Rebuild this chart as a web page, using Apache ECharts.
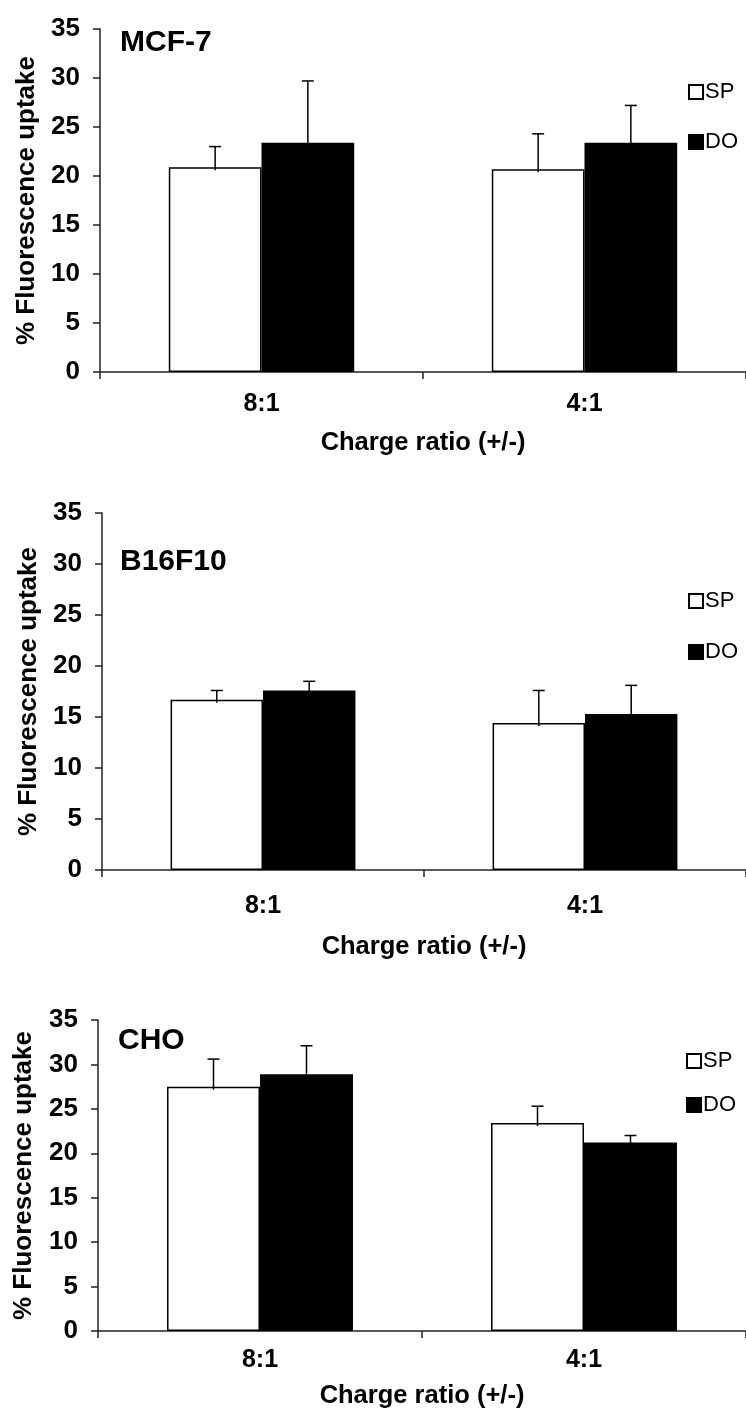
<!DOCTYPE html>
<html>
<head>
<meta charset="utf-8">
<script src="https://cdn.jsdelivr.net/npm/echarts@6/dist/echarts.min.js"></script>
<style>
html,body{margin:0;padding:0;background:#fff;}
#chart{width:746px;height:1410px;}
</style>
</head>
<body>
<div id="chart"></div>
<script>
// ---- data ----
const categories = ['8:1', '4:1'];
const seriesNames = ['SP', 'DO'];
const panelTitles = ['MCF-7', 'B16F10', 'CHO'];
const yTicks = [0, 5, 10, 15, 20, 25, 30, 35];

const mcf7SP = [20.9, 20.7];
const mcf7SPsd = [2.1, 3.6];
const mcf7DO = [23.4, 23.4];
const mcf7DOsd = [6.3, 3.8];

const b16SP = [16.7, 14.4];
const b16SPsd = [0.9, 3.2];
const b16DO = [17.6, 15.3];
const b16DOsd = [0.9, 2.8];

const choSP = [27.5, 23.4];
const choSPsd = [3.1, 1.9];
const choDO = [28.9, 21.2];
const choDOsd = [3.2, 0.8];

const xAxisName = 'Charge ratio (+/-)';
const yAxisName = '% Fluorescence uptake';

// ---- layout ----
const FONT = 'Liberation Sans, Arial, sans-serif';
const panels = [
  { sp: mcf7SP, spsd: mcf7SPsd, dO: mcf7DO, dosd: mcf7DOsd,
    grid: { left: 100, top: 29, width: 652, height: 343 },
    labelMargin: 20, nameGap: 58, yNameGap: 59,
    title: { x: 120, y: 44 }, legend: { left: 688, top: 81, gap: 28 } },
  { sp: b16SP, spsd: b16SPsd, dO: b16DO, dosd: b16DOsd,
    grid: { left: 102, top: 513, width: 650, height: 357 },
    labelMargin: 24, nameGap: 64, yNameGap: 59,
    title: { x: 120, y: 563 }, legend: { left: 688, top: 590, gap: 29 } },
  { sp: choSP, spsd: choSPsd, dO: choDO, dosd: choDOsd,
    grid: { left: 98, top: 1020, width: 656, height: 312 },
    labelMargin: 17, nameGap: 52, yNameGap: 61,
    title: { x: 118, y: 1042 }, legend: { left: 686, top: 1050, gap: 22 } }
];

const BAR_FRAC = 0.287;
const chart = echarts.init(document.getElementById('chart'), null, { renderer: 'canvas' });

const grids = [], xAxes = [], yAxes = [], series = [], legends = [], graphics = [];

function errorSeries(idx, means, sds, sign) {
  return {
    type: 'custom',
    xAxisIndex: idx, yAxisIndex: idx,
    silent: true,
    z: 5,
    data: categories.map((c, i) => [i, means[i], means[i] + sds[i]]),
    renderItem: function (params, api) {
      const catW = api.size([1, 0])[0];
      const off = sign * catW * BAR_FRAC / 2;
      const top = api.coord([api.value(0), api.value(2)]);
      const base = api.coord([api.value(0), api.value(1)]);
      const x = top[0] + off;
      const cap = 6;
      return {
        type: 'group',
        children: [
          { type: 'line', shape: { x1: x, y1: base[1] + 3, x2: x, y2: top[1] },
            style: { stroke: '#000', lineWidth: 1.5 } },
          { type: 'line', shape: { x1: x - cap, y1: top[1], x2: x + cap, y2: top[1] },
            style: { stroke: '#000', lineWidth: 1.5 } }
        ]
      };
    }
  };
}

panels.forEach((p, i) => {
  grids.push(Object.assign({ containLabel: false }, p.grid));
  xAxes.push({
    type: 'category', gridIndex: i, data: categories,
    axisLine: { lineStyle: { color: '#222', width: 1.5 } },
    axisTick: { show: true, length: 7, lineStyle: { color: '#222', width: 1.5 } },
    axisLabel: { color: '#000', fontFamily: FONT, fontWeight: 'bold', fontSize: 25, margin: p.labelMargin },
    name: xAxisName, nameLocation: 'middle', nameGap: p.nameGap,
    nameTextStyle: { color: '#000', fontFamily: FONT, fontWeight: 'bold', fontSize: 25.5 },
    splitLine: { show: false }
  });
  yAxes.push({
    type: 'value', gridIndex: i, min: yTicks[0], max: yTicks[yTicks.length - 1], interval: 5,
    axisLine: { show: true, lineStyle: { color: '#222', width: 1.5 } },
    axisTick: { show: true, length: 7, lineStyle: { color: '#222', width: 1.5 } },
    axisLabel: { color: '#000', fontFamily: FONT, fontWeight: 'bold', fontSize: 26, margin: 20 },
    splitLine: { show: false },
    name: yAxisName, nameLocation: 'middle', nameGap: p.yNameGap, nameRotate: 90,
    nameTextStyle: { color: '#000', fontFamily: FONT, fontWeight: 'bold', fontSize: 26 }
  });
  series.push({
    name: 'SP', type: 'bar', xAxisIndex: i, yAxisIndex: i, data: p.sp,
    barWidth: (BAR_FRAC * 100) + '%', barGap: '0%',
    itemStyle: { color: '#fff', borderColor: '#000', borderWidth: 1.5 },
    emphasis: { disabled: true }
  });
  series.push({
    name: 'DO', type: 'bar', xAxisIndex: i, yAxisIndex: i, data: p.dO,
    barWidth: (BAR_FRAC * 100) + '%', barGap: '0%',
    itemStyle: { color: '#000', borderColor: '#000', borderWidth: 1.5 },
    emphasis: { disabled: true }
  });
  series.push(errorSeries(i, p.sp, p.spsd, -1));
  series.push(errorSeries(i, p.dO, p.dosd, 1));
  legends.push({
    data: seriesNames, orient: 'vertical', left: p.legend.left, top: p.legend.top,
    itemWidth: 14, itemHeight: 14, itemGap: p.legend.gap, icon: 'rect',
    padding: 0, selectedMode: false,
    textStyle: { color: '#000', fontFamily: FONT, fontSize: 22, padding: [0, 0, 0, -3] }
  });
  graphics.push({
    type: 'text', left: p.title.x, top: p.title.y - 16,
    style: { text: panelTitles[i], fill: '#000', font: 'bold 30px ' + FONT }
  });
});

chart.setOption({
  animation: false,
  backgroundColor: '#fff',
  grid: grids, xAxis: xAxes, yAxis: yAxes, series: series,
  legend: legends, graphic: graphics
});
</script>
</body>
</html>
